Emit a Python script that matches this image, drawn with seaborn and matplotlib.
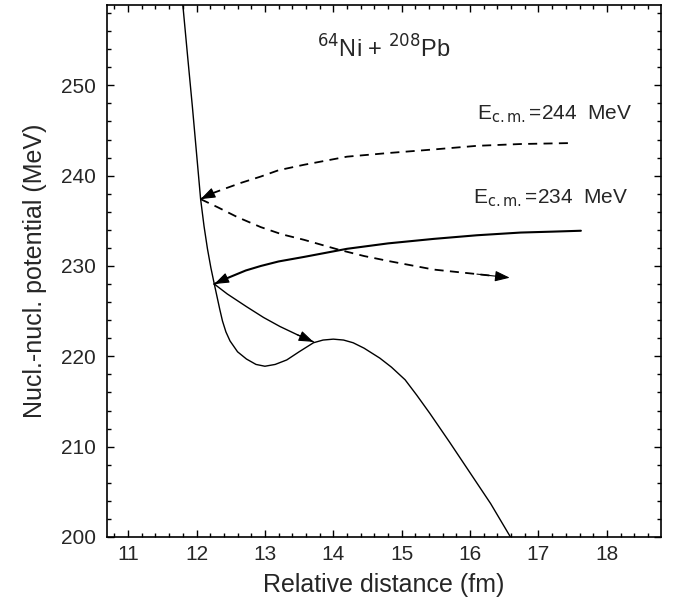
import matplotlib
matplotlib.use("Agg")
import matplotlib.pyplot as plt
import seaborn as sns
import pandas as pd
from matplotlib.ticker import MultipleLocator

# Potential curve
pot_x = [11.80, 11.87, 11.94, 12.00, 12.06, 12.11, 12.16, 12.21, 12.26, 12.30, 12.34, 12.38, 12.43, 12.49, 12.60,
         12.73, 12.87, 13.00, 13.15, 13.32, 13.50, 13.71, 13.85, 14.00, 14.15, 14.29, 14.45, 14.68, 14.85, 15.05,
         15.22, 15.41, 15.70, 16.00, 16.30, 16.59]
pot_y = [258.9, 253.2, 247.6, 242.5, 237.4, 234.4, 231.9, 229.8, 228.0, 226.6, 225.2, 223.9, 222.7, 221.7, 220.5,
         219.7, 219.1, 218.9, 219.1, 219.6, 220.5, 221.5, 221.8, 221.9, 221.8, 221.5, 220.9, 219.8, 218.8, 217.4,
         215.7, 213.7, 210.5, 207.1, 203.7, 200.0]

# E=244 MeV incoming (dashed)
in244_x = [17.43, 16.74, 16.1, 15.47, 14.8, 14.2, 13.57, 13.2, 12.94, 12.65, 12.43, 12.25, 12.06]
in244_y = [243.6, 243.5, 243.3, 242.9, 242.5, 242.1, 241.2, 240.6, 239.9, 239.2, 238.6, 238.1, 237.4]
# E=244 MeV outgoing (dashed)
out244_x = [12.06, 12.31, 12.6, 12.94, 13.25, 13.57, 14.08, 14.45, 14.84, 15.47, 16.1, 16.58]
out244_y = [237.4, 236.5, 235.4, 234.3, 233.5, 232.9, 231.8, 231.1, 230.5, 229.6, 229.1, 228.7]
# E=234 MeV incoming (solid)
in234_x = [17.62, 17.2, 16.74, 16.1, 15.47, 14.8, 14.2, 13.57, 13.2, 12.94, 12.72, 12.56, 12.40, 12.26]
in234_y = [233.9, 233.8, 233.7, 233.4, 233.0, 232.5, 231.9, 231.0, 230.5, 230.0, 229.5, 229.0, 228.5, 228.0]
# E=234 MeV outgoing (solid, thin)
out234_x = [12.26, 12.45, 12.73, 12.98, 13.22, 13.47, 13.71]
out234_y = [228.0, 226.9, 225.5, 224.3, 223.3, 222.4, 221.6]

x_ticks = [11, 12, 13, 14, 15, 16, 17, 18]
y_ticks = [200, 210, 220, 230, 240, 250]

sns.set_theme(style="ticks")
plt.rcParams['font.family'] = ['Liberation Sans', 'DejaVu Sans']

fig = plt.figure(figsize=(6.81, 6.06), dpi=100)
ax = fig.add_axes([0.157, 0.1139, 0.8135, 0.878])

df_pot = pd.DataFrame({"x": pot_x, "y": pot_y})
sns.lineplot(data=df_pot, x="x", y="y", sort=False, color="black", lw=1.0, ax=ax)

def curve(xs, ys, ls, lw, head_lw):
    d = pd.DataFrame({"x": xs, "y": ys})
    sns.lineplot(data=d, x="x", y="y", sort=False, color="black", lw=lw, linestyle=ls, ax=ax)
    ax.annotate("", xy=(xs[-1], ys[-1]), xytext=(xs[-2], ys[-2]),
                arrowprops=dict(arrowstyle="-|>,head_length=0.5,head_width=0.18", color="black",
                                lw=head_lw, mutation_scale=18, shrinkA=0, shrinkB=0))

curve(in244_x, in244_y, (0, (5, 3.5)), 1.3, 0.8)
curve(out244_x, out244_y, (0, (5, 3.5)), 1.3, 0.8)
curve(in234_x, in234_y, "-", 1.5, 0.8)
curve(out234_x, out234_y, "-", 1.0, 0.8)

ax.set_xlim(10.69, 18.79)
ax.set_ylim(200, 258.9)
ax.set_xticks(x_ticks)
ax.set_yticks(y_ticks)
ax.xaxis.set_minor_locator(MultipleLocator(0.2))
ax.yaxis.set_minor_locator(MultipleLocator(2))
ax.tick_params(which="both", direction="in", top=True, right=True, labelsize=15, color="black", width=1.0)
ax.tick_params(which="major", length=5)
ax.tick_params(which="minor", length=3)
ax.tick_params(axis="x", which="both", pad=6)
ax.tick_params(axis="y", which="both", pad=8)
for s in ax.spines.values():
    s.set_linewidth(1.2)
    s.set_color("black")

ax.set_xlabel("Relative distance (fm)", fontsize=18, labelpad=6)
ax.set_ylabel("Nucl.-nucl. potential (MeV)", fontsize=18, labelpad=10)

ax.text(14.74, 254.0, r"$^{64}$Ni + $^{208}$Pb", fontsize=17, ha="center", va="center")
ax.text(16.1, 246.2, r"E$_{\mathrm{c.m.}}$=244  MeV", fontsize=15, ha="left", va="baseline")
ax.text(16.04, 236.9, r"E$_{\mathrm{c.m.}}$=234  MeV", fontsize=15, ha="left", va="baseline")

fig.savefig("out.png", dpi=100)
